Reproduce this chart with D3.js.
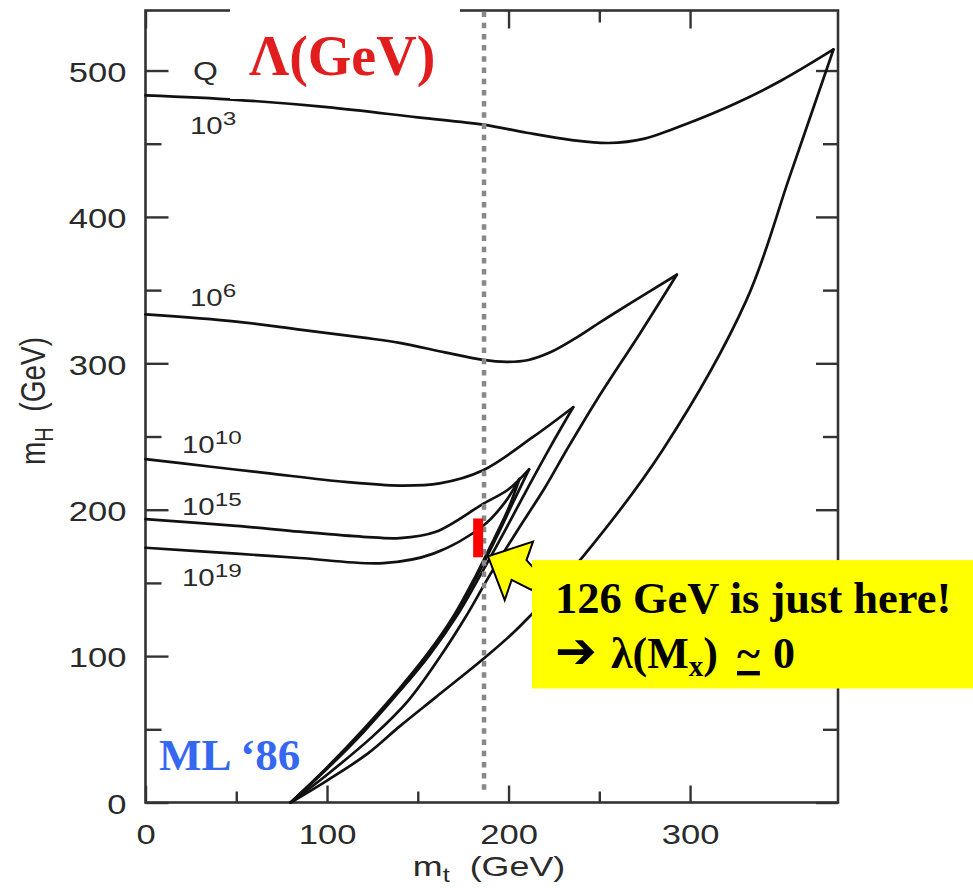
<!DOCTYPE html>
<html><head><meta charset="utf-8">
<script src="https://cdn.jsdelivr.net/npm/d3@7"></script>
<style>html,body{margin:0;padding:0;background:#fff;}svg{display:block;}</style>
</head><body>
<script>
// ---------- data (mt in GeV, mH in GeV) ----------
const xTicksMajor = [0, 100, 200, 300];
const xTicksMinor = [50, 150, 250];
const yTicksMajor = [0, 100, 200, 300, 400, 500];
const yTicksMinor = [50, 150, 250, 350, 450];

// upper (triviality) bounds for each cutoff Lambda
const upper3  = [[0,483],[50,480],[100,475],[150,468],[186,463],[210,457.5],[235,452.5],[255,450.5],[275,453.5],[300,464.5],[325,477.5],[350,493],[379,514.4]];
const upper6  = [[0,333.4],[50,328.5],[85,323],[120,317.5],[140,314],[165,307.5],[186,302.3],[199,301],[211,302.3],[223,307.5],[236,316.5],[251,328.5],[267,341],[292.7,360.5]];
const upper10 = [[0,234.6],[35,229.5],[67,225],[110,219],[140,216.5],[162,218],[186,227],[213.5,249.7],[235.6,270]];
const upper15 = [[0,193.6],[50,189],[85,185],[120,181.5],[140,180.6],[160,185],[186,204],[200,214],[211.3,227.6]];
const upper19 = [[0,174],[50,170],[85,167],[131,163.5],[158.6,170],[186,189],[198,205],[206,221]];

// lower (vacuum stability) bounds
const lower19 = [[80,0],[100,24],[120,50],[140,78],[155,101],[170,128],[182,155],[192,180],[200,201],[206,221]];
const lower15 = [[80,0],[100,23.5],[120,49],[140,77],[155.8,101],[171,129],[183.2,156],[193.3,181],[202.5,205],[211.3,227.6]];
const lower10 = [[80,0],[100,23],[120,48],[140,76],[156,100],[171.8,128],[184.8,156],[199,188],[211.5,217],[223.5,244],[235.6,270]];
const lower6  = [[80,0],[100,19],[125,45],[145,70],[162,99],[176,126],[190,156],[205,186],[220,215],[232,240.8],[248.6,275],[272.5,320.6],[292.7,360.5]];
const lower3  = [[80,0],[100,15],[122,33],[140,52],[160,72],[187,99],[206,120],[241,168],[285,241],[331,343],[355,428],[379,514.4]];

const curveLabels = [
  {base:"10", exp:"3",  x:190, y:134},
  {base:"10", exp:"6",  x:190, y:306},
  {base:"10", exp:"10", x:182, y:453},
  {base:"10", exp:"15", x:182, y:515},
  {base:"10", exp:"19", x:182, y:586}
];

const markerMt = 186.5;                 // dotted vertical line
const redBar = {mt0:180.5, mt1:186, mH0:167.5, mH1:194};
const arrowPts = [[188.7,168.1],[213.5,178.3],[209.9,165.6],[217.3,155.4],[212.9,145.1],[201.7,152],[197.9,138.3]];
const calloutBox = {mt0:212.9, mt1:460, mH0:77.9, mH1:165.6};

// ---------- drawing ----------
const W = 973, H = 888;
const STRETCH = 1.28;
const sans = "'Liberation Sans', Arial, Helvetica, sans-serif";
const serif = "'Liberation Serif', 'Times New Roman', serif";

const svg = d3.select("body").append("svg").attr("width", W).attr("height", H);

const x = d3.scaleLinear().domain([0, 381.5]).range([145.5, 838]);
const y = d3.scaleLinear().domain([0, 541]).range([802.5, 10.5]);

const axisColor = "#333";

function styleAxis(g){
  g.select(".domain").remove();
  g.selectAll(".tick line").attr("stroke", axisColor).attr("stroke-width", 2.4);
}

// bottom
svg.append("g").attr("transform", `translate(0,${y(0)})`)
  .call(d3.axisBottom(x).tickValues(xTicksMajor).tickSize(-17).tickPadding(22).tickFormat(d3.format("d")))
  .call(styleAxis)
  .call(g => g.selectAll("text").attr("font-family", sans).attr("font-size", 27).attr("fill", "#2a2a2a")
      .attr("transform", `scale(${STRETCH},1)`));
svg.append("g").attr("transform", `translate(0,${y(0)})`)
  .call(d3.axisBottom(x).tickValues(xTicksMinor).tickSize(-11).tickFormat(""))
  .call(styleAxis);
// top
svg.append("g").attr("transform", `translate(0,${y(541)})`)
  .call(d3.axisTop(x).tickValues(xTicksMajor).tickSize(-18).tickFormat(""))
  .call(styleAxis);
svg.append("g").attr("transform", `translate(0,${y(541)})`)
  .call(d3.axisTop(x).tickValues(xTicksMinor).tickSize(-12).tickFormat(""))
  .call(styleAxis);
// left
svg.append("g").attr("transform", `translate(${x(0)},0)`)
  .call(d3.axisLeft(y).tickValues(yTicksMajor).tickSize(-23).tickFormat(d3.format("d")))
  .call(styleAxis)
  .call(g => g.selectAll("text").attr("font-family", sans).attr("font-size", 27).attr("fill", "#2a2a2a")
      .attr("x", -19 / STRETCH).attr("dy", "0.40em")
      .attr("transform", `scale(${STRETCH},1)`));
svg.append("g").attr("transform", `translate(${x(0)},0)`)
  .call(d3.axisLeft(y).tickValues(yTicksMinor).tickSize(-16).tickFormat(""))
  .call(styleAxis);
// right
svg.append("g").attr("transform", `translate(${x(381.5)},0)`)
  .call(d3.axisRight(y).tickValues(yTicksMajor).tickSize(-22).tickFormat(""))
  .call(styleAxis);
svg.append("g").attr("transform", `translate(${x(381.5)},0)`)
  .call(d3.axisRight(y).tickValues(yTicksMinor).tickSize(-15).tickFormat(""))
  .call(styleAxis);

// frame
svg.append("rect")
  .attr("x", x(0)).attr("y", y(541))
  .attr("width", x(381.5) - x(0)).attr("height", y(0) - y(541))
  .attr("fill", "none").attr("stroke", axisColor).attr("stroke-width", 2.6);

// curves
const line = d3.line().x(d => x(d[0])).y(d => y(d[1])).curve(d3.curveCatmullRom.alpha(0.5));
const allCurves = [upper3, upper6, upper10, upper15, upper19, lower3, lower6, lower10, lower15, lower19];
svg.append("g").selectAll("path").data(allCurves).join("path")
  .attr("d", line).attr("fill", "none").attr("stroke", "#111")
  .attr("stroke-width", 2.7).attr("stroke-linejoin", "round").attr("stroke-linecap", "round");

// curve labels
function stretchedText(px, py, anchor){
  return svg.append("text").attr("transform", `translate(${px},${py}) scale(${STRETCH},1)`)
    .attr("text-anchor", anchor || "start").attr("font-family", sans).attr("fill", "#2a2a2a");
}
curveLabels.forEach(l => {
  const t = stretchedText(l.x, l.y).attr("font-size", 23);
  t.append("tspan").text(l.base);
  t.append("tspan").attr("font-size", 19).attr("dy", -9).text(l.exp);
});
stretchedText(193, 80).attr("font-size", 25).text("Q");

// axis titles
{
  const t = stretchedText(489, 876, "middle").attr("font-size", 28);
  t.append("tspan").text("m");
  t.append("tspan").attr("font-size", 20).attr("dy", 6).text("t");
  t.append("tspan").attr("dy", -6).text("\u00a0\u00a0(GeV)");
}
{
  const t = svg.append("text")
    .attr("transform", `translate(45,401) scale(${STRETCH},1) rotate(-90)`)
    .attr("text-anchor", "middle").attr("font-family", sans).attr("font-size", 28).attr("fill", "#2a2a2a");
  t.append("tspan").text("m");
  t.append("tspan").attr("font-size", 20).attr("dy", 6).text("H");
  t.append("tspan").attr("dy", -6).text("\u00a0\u00a0(GeV)");
}

// dotted marker line
svg.append("line")
  .attr("x1", x(markerMt)).attr("x2", x(markerMt))
  .attr("y1", y(541) + 1).attr("y2", y(8))
  .attr("stroke", "#888").attr("stroke-width", 4.5).attr("stroke-dasharray", "5.5 5.7");

// white patch + Lambda label
svg.append("rect").attr("x", 230).attr("y", 0).attr("width", 230).attr("height", 99).attr("fill", "#fff");
svg.append("text").attr("x", 249).attr("y", 75)
  .attr("font-family", serif).attr("font-weight", "bold").attr("font-size", 56)
  .attr("fill", "#e11d1d").text("\u039b(GeV)");

// red bar
svg.append("rect")
  .attr("x", x(redBar.mt0)).attr("y", y(redBar.mH1))
  .attr("width", x(redBar.mt1) - x(redBar.mt0)).attr("height", y(redBar.mH0) - y(redBar.mH1))
  .attr("fill", "#ff0000");

// callout arrow + box
svg.append("polygon")
  .attr("points", arrowPts.map(p => [x(p[0]), y(p[1])].join(",")).join(" "))
  .attr("fill", "#ffff00").attr("stroke", "#000").attr("stroke-width", 2).attr("stroke-linejoin", "miter");
svg.append("rect")
  .attr("x", x(calloutBox.mt0)).attr("y", y(calloutBox.mH1))
  .attr("width", x(calloutBox.mt1) - x(calloutBox.mt0)).attr("height", y(calloutBox.mH0) - y(calloutBox.mH1))
  .attr("fill", "#ffff00");

svg.append("text").attr("x", 555).attr("y", 613)
  .attr("font-family", serif).attr("font-weight", "bold").attr("font-size", 44.5).attr("fill", "#000")
  .text("126 GeV is just here!");
{
  const t = svg.append("text").attr("x", 555).attr("y", 668)
    .attr("font-family", serif).attr("font-weight", "bold").attr("font-size", 44).attr("fill", "#000");
  t.append("tspan").attr("font-family", "'DejaVu Sans', sans-serif").attr("font-size", 50).text("\u2794");
  t.append("tspan").attr("x", 611).text("\u03bb(M");
  t.append("tspan").attr("font-size", 29).attr("dy", 8).text("x");
  t.append("tspan").attr("dy", -8).text(")");
  t.append("tspan").attr("x", 737).attr("text-decoration", "underline").text("~");
  t.append("tspan").attr("x", 773).text("0");
}

// ML '86
svg.append("text").attr("x", 159).attr("y", 770)
  .attr("font-family", serif).attr("font-weight", "bold").attr("font-size", 45)
  .attr("fill", "#3567f0").text("ML \u201886");
</script>
</body></html>
